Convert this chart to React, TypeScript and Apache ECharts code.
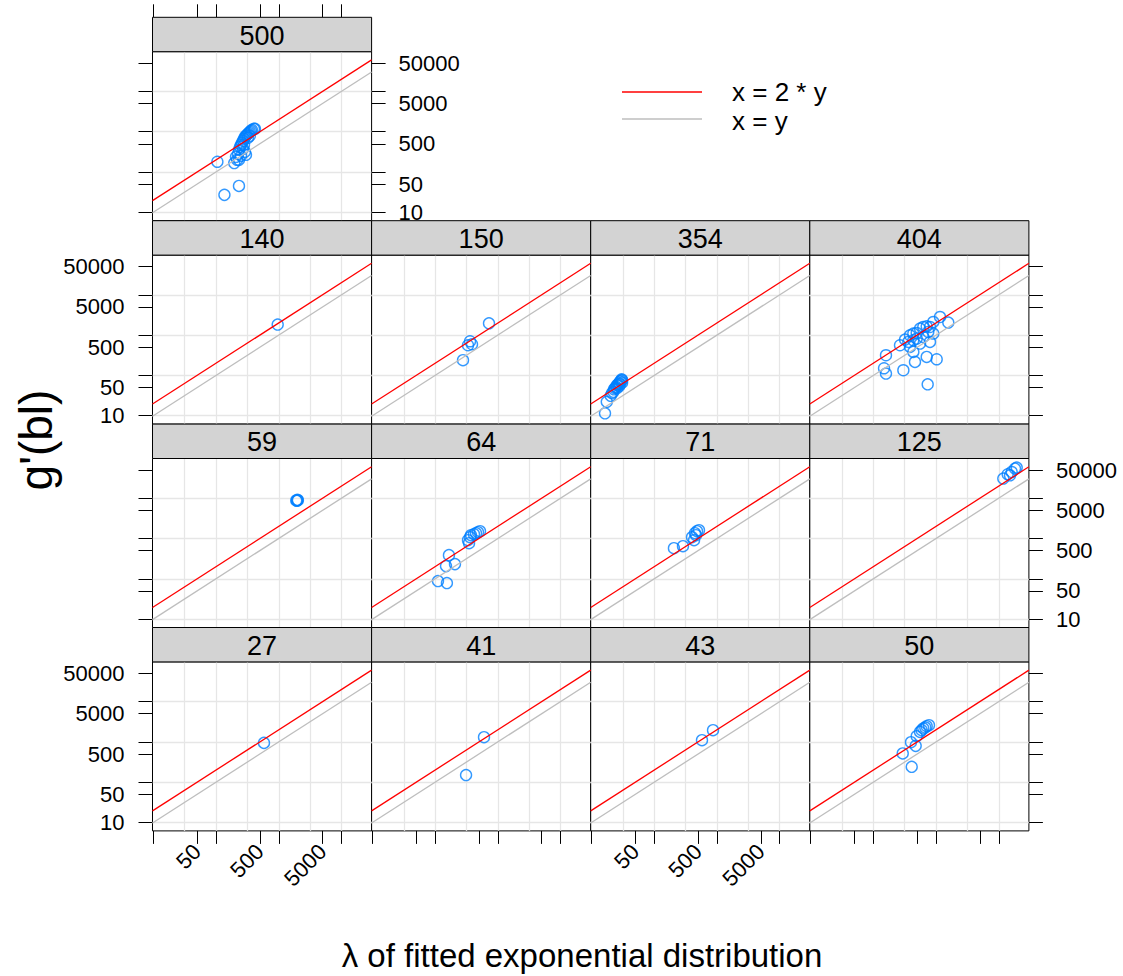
import React, { useEffect, useRef } from "react";
import * as echarts from "echarts";

// ---- data: [λ, g'(bl)] pairs for each panel ----
const p500: [number, number][] = [
  [105, 179], [136, 27], [232, 45], [195, 166], [208, 238], [224, 282], [232, 354],
  [241, 420], [250, 471], [259, 528], [269, 592], [279, 663], [289, 743], [300, 787],
  [311, 833], [322, 882], [334, 934], [347, 989], [360, 1047], [373, 1108], [402, 1173],
  [417, 1173], [269, 375], [289, 316], [300, 266], [250, 252], [232, 200], [216, 200],
  [322, 702], [347, 787], [279, 471],
];
const p140: [number, number][] = [[961, 1820]];
const p150: [number, number][] = [[360, 702], [334, 559], [278, 238], [722, 1960], [387, 592]];
const p354: [number, number][] = [
  [16.4, 11.4], [17.5, 22], [20.2, 31], [22.3, 39], [22.8, 45], [23.7, 48], [24.6, 52],
  [25.5, 57], [26.5, 60], [27.5, 64], [28.5, 70], [29.6, 74], [30.7, 76], [30.2, 80],
  [25.5, 48], [27.5, 54], [21.2, 36], [28.5, 60], [30.7, 66],
];
const p404: [number, number][] = [
  [159, 316], [148, 150], [159, 111], [301, 134], [266, 559], [320, 774], [384, 988],
  [434, 1089], [491, 1127], [555, 1449], [626, 1588], [709, 1652], [800, 1588], [903, 2113],
  [1156, 2812], [1567, 2042], [434, 381], [461, 216], [709, 287], [1023, 251], [735, 60],
  [800, 675], [555, 616], [384, 507], [903, 1089], [626, 897], [434, 743], [361, 675],
  [751, 1194], [491, 818],
];
const p59: [number, number][] = [[1900, 8800], [1980, 9100], [1950, 8600], [2020, 8900]];
const p64: [number, number][] = [
  [111, 87.5], [154, 78], [149, 206], [207, 231], [166, 386], [347, 765], [360, 1077],
  [373, 1208], [416, 1280], [448, 1355], [482, 1432], [519, 1517], [334, 908],
];
const p71: [number, number][] = [
  [206, 575], [287, 645], [400, 1077], [446, 1355], [481, 1517], [517, 1606], [463, 1208], [431, 908],
];
const p125: [number, number][] = [
  [11800, 30700], [13870, 39200], [16070, 44700], [18140, 54200], [19300, 57400], [15080, 37000],
];
const p27: [number, number][] = [[581, 944]];
const p41: [number, number][] = [[601, 1309], [311, 150]];
const p43: [number, number][] = [[577, 1102], [865, 1950]];
const p50: [number, number][] = [
  [294, 516], [409, 240], [398, 984], [473, 796], [491, 1384], [555, 1770], [626, 2150],
  [709, 2450], [771, 2594], [673, 2275], [590, 1950],
];

// panel label, data, row and column in the lattice
const panelNames = ["500", "140", "150", "354", "404", "59", "64", "71", "125", "27", "41", "43", "50"];
const panelData = [p500, p140, p150, p354, p404, p59, p64, p71, p125, p27, p41, p43, p50];
const panelRow = [0, 1, 1, 1, 1, 2, 2, 2, 2, 3, 3, 3, 3];
const panelCol = [0, 0, 1, 2, 3, 0, 1, 2, 3, 0, 1, 2, 3];

// axis ranges and ticks (original units)
const xRange = [9.7, 30200];
const yRange = [6.17, 96600];
const xTickValues = [10, 50, 100, 500, 1000, 5000, 10000];
const xLabelValues = [50, 500, 5000];
const yTickValues = [10, 50, 100, 500, 1000, 5000, 10000, 50000];
const yLabelValues = [10, 50, 500, 5000, 50000];
const xGridValues = [31.62, 100, 316.2, 1000, 3162, 10000];
const yGridValues = [10, 100, 1000, 10000];

const legendNames = ["x = 2 * y", "x = y"];
const lineRatios = [2, 1];
const lineColors = ["#ff0000", "#bebebe"];

// ---- layout ----
const COL_LEFT = 152.5;
const COL_W = 219.1;
const ROW_TOP = 17.3;
const ROW_H = 203.4;
const STRIP_H = 34.4;
const PLOT_H = ROW_H - STRIP_H;
const FONT = "'Liberation Sans', Arial, Helvetica, sans-serif";

const lg = Math.log10;
const fmt = (v: number) => String(Math.round(Math.pow(10, v)));

function buildOption() {
  const grid: any[] = [];
  const xAxis: any[] = [];
  const yAxis: any[] = [];
  const series: any[] = [];
  const graphic: any[] = [];

  const xMin = lg(xRange[0]);
  const xMax = lg(xRange[1]);
  const yMin = lg(yRange[0]);
  const yMax = lg(yRange[1]);

  const tickStyle = { show: true, length: 14, lineStyle: { color: "#000", width: 1 } };
  const labelStyle = { color: "#000", fontSize: 22, fontFamily: FONT, formatter: fmt };

  panelNames.forEach((name, i) => {
    const row = panelRow[i];
    const col = panelCol[i];
    const left = COL_LEFT + col * COL_W;
    const stripTop = ROW_TOP + row * ROW_H;
    const top = stripTop + STRIP_H;

    grid.push({
      left, top, width: COL_W, height: PLOT_H,
      show: true, borderColor: "#000", borderWidth: 1, backgroundColor: "#fff",
    });

    // reference-grid axes
    const gx = xAxis.length;
    xAxis.push({
      gridIndex: i, type: "value", min: xMin, max: xMax,
      axisLine: { show: false },
      axisTick: { show: false, customValues: xGridValues.map(lg) },
      axisLabel: { show: false },
      splitLine: { show: true, lineStyle: { color: "#e6e6e6", width: 1.3 } },
    });
    const gy = yAxis.length;
    yAxis.push({
      gridIndex: i, type: "value", min: yMin, max: yMax,
      axisLine: { show: false },
      axisTick: { show: false, customValues: yGridValues.map(lg) },
      axisLabel: { show: false },
      splitLine: { show: true, lineStyle: { color: "#e6e6e6", width: 1.3 } },
    });

    // bottom ticks on the last row
    if (row === 3) {
      xAxis.push({
        gridIndex: i, type: "value", position: "bottom", min: xMin, max: xMax,
        axisLine: { show: false },
        axisTick: { ...tickStyle, length: 13, customValues: xTickValues.map(lg) },
        axisLabel: {
          ...labelStyle, show: col === 0 || col === 2, rotate: 45, margin: 17,
          customValues: xLabelValues.map(lg),
        },
        splitLine: { show: false },
      });
    }
    // top ticks above the strip of the first panel
    if (row === 0) {
      xAxis.push({
        gridIndex: i, type: "value", position: "top", offset: STRIP_H, min: xMin, max: xMax,
        axisLine: { show: false },
        axisTick: { ...tickStyle, length: 13, customValues: xTickValues.map(lg) },
        axisLabel: { show: false },
        splitLine: { show: false },
      });
    }
    // left ticks on the first column
    if (col === 0) {
      yAxis.push({
        gridIndex: i, type: "value", position: "left", min: yMin, max: yMax,
        axisLine: { show: false },
        axisTick: { ...tickStyle, customValues: yTickValues.map(lg) },
        axisLabel: {
          ...labelStyle, show: row === 1 || row === 3, margin: 28,
          customValues: yLabelValues.map(lg),
        },
        splitLine: { show: false },
      });
    }
    // right ticks on the last panel of each row
    if (col === 3 || row === 0) {
      yAxis.push({
        gridIndex: i, type: "value", position: "right", min: yMin, max: yMax,
        axisLine: { show: false },
        axisTick: { ...tickStyle, customValues: yTickValues.map(lg) },
        axisLabel: {
          ...labelStyle, show: row === 0 || row === 2, margin: 27,
          customValues: yLabelValues.map(lg),
        },
        splitLine: { show: false },
      });
    }

    series.push({
      type: "scatter",
      xAxisIndex: gx, yAxisIndex: gy,
      symbol: "circle", symbolSize: 11,
      itemStyle: { color: "rgba(255,255,255,0)", borderColor: "#0080ff", borderWidth: 1.4 },
      data: panelData[i].map(([x, y]) => [lg(x), lg(y)]),
      z: 3,
      silent: true,
    });

    lineRatios.forEach((r, k) => {
      series.push({
        type: "line",
        xAxisIndex: gx, yAxisIndex: gy,
        showSymbol: false, symbol: "none",
        lineStyle: { color: lineColors[k], width: 1.3 },
        data: [[xMin, xMin + lg(r)], [xMax, xMax + lg(r)]],
        z: k === 0 ? 5 : 4,
        silent: true,
      });
    });

    // strip with the panel label
    graphic.push({
      type: "rect",
      shape: { x: left, y: stripTop, width: COL_W, height: STRIP_H },
      style: { fill: "#d3d3d3", stroke: "#000", lineWidth: 1 },
      z: 10,
    });
    graphic.push({
      type: "text",
      x: left + COL_W / 2, y: stripTop + STRIP_H / 2 + 1,
      style: { text: name, fill: "#000", font: `27px ${FONT}`, textAlign: "center", textVerticalAlign: "middle" },
      z: 11,
    });
  });

  // key
  const keyLineY = [92, 119];
  const keyTextY = [91.5, 120.5];
  legendNames.forEach((t, k) => {
    graphic.push({
      type: "line",
      shape: { x1: 622, y1: keyLineY[k], x2: 702, y2: keyLineY[k] },
      style: { stroke: lineColors[k], lineWidth: 1.4 },
      z: 10,
    });
    graphic.push({
      type: "text",
      x: 732, y: keyTextY[k],
      style: { text: t, fill: "#000", font: `26px ${FONT}`, textAlign: "left", textVerticalAlign: "middle" },
      z: 10,
    });
  });

  // axis titles
  graphic.push({
    type: "text",
    x: 582, y: 955,
    style: {
      text: "λ of fitted exponential distribution", fill: "#000",
      font: `33px ${FONT}`, textAlign: "center", textVerticalAlign: "middle",
    },
    z: 10,
  });
  graphic.push({
    type: "text",
    x: 36, y: 440, rotation: Math.PI / 2,
    style: {
      text: "g'(bl)", fill: "#000",
      font: `46px ${FONT}`, textAlign: "center", textVerticalAlign: "middle",
    },
    z: 10,
  });

  return {
    animation: false,
    backgroundColor: "#fff",
    grid, xAxis, yAxis, series, graphic,
  };
}

export default function App() {
  const ref = useRef<HTMLDivElement>(null);
  useEffect(() => {
    const chart = echarts.init(ref.current!, undefined, { renderer: "svg" });
    chart.setOption(buildOption());
    return () => chart.dispose();
  }, []);
  return <div ref={ref} style={{ position: "absolute", left: 0, top: 0, width: 1123, height: 976 }} />;
}
